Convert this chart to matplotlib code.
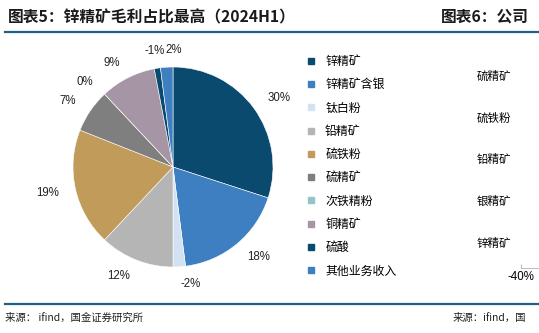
import numpy as np
import matplotlib.pyplot as plt
from matplotlib.lines import Line2D

plt.rcParams['font.family'] = ['Noto Sans CJK SC', 'DejaVu Sans']

# pie data (2024H1 gross profit share, %)
products = ['锌精矿', '锌精矿含银', '钛白粉', '铅精矿', '硫铁粉', '硫精矿',
            '次铁精粉', '铜精矿', '硫酸', '其他业务收入']
shares = [30, 18, -2, 12, 19, 7, 0, 9, -1, 2]
colors = ['#0a4a6e', '#3d7fc1', '#d3e2f2', '#b5b5b5', '#c09b5a', '#7f7f7f',
          '#92c5c9', '#a595a5', '#0a4a6e', '#3d7fc1']

# partial chart on the right (cut off by page)
right_cats = ['锌精矿', '银精矿', '铅精矿', '硫铁粉', '硫精矿']

W, H = 539, 333
fig = plt.figure(figsize=(W / 100, H / 100), dpi=100)

# titles
fig.text(8 / W, 1 - 17 / H, '图表5：锌精矿毛利占比最高（2024H1）', fontsize=11.3,
         fontweight='bold', color='#1a1a1a', va='center', ha='left')
fig.text(441 / W, 1 - 17 / H, '图表6：公司', fontsize=11.3,
         fontweight='bold', color='#1a1a1a', va='center', ha='left')

# rule lines
for y in (32, 304):
    fig.add_artist(Line2D([5 / W, 1], [1 - y / H, 1 - y / H], color='#245f88', lw=1.6))

# sources
fig.text(5 / W, 1 - 318 / H, '来源： ifind，国金证券研究所', fontsize=7.5,
         color='#222222', va='center', ha='left')
fig.text(453 / W, 1 - 318 / H, '来源：ifind，国', fontsize=7.5,
         color='#222222', va='center', ha='left')

# pie
ax = fig.add_axes([73 / W, 1 - 267 / H, 200 / W, 200 / H])
vals = np.abs(np.array(shares, dtype=float))
lbls = [f'{v}%' for v in shares]
wedges, texts = ax.pie(vals, colors=colors, startangle=90, counterclock=False,
                       labels=lbls, labeldistance=1.17,
                       wedgeprops=dict(edgecolor='white', linewidth=0.4),
                       textprops=dict(fontsize=8.3, family='Liberation Sans', color='#222222'))
# small slices near the top: keep their labels apart
texts[-2].set_ha('center')
texts[-1].set_ha('left')
ax.set_xlim(-1, 1)
ax.set_ylim(-1, 1)
ax.set_aspect('equal')

handles = [Line2D([], [], marker='s', linestyle='none', markersize=4.3,
                  markerfacecolor=c, markeredgecolor=c) for c in colors]
fig.legend(handles, products, loc='upper left', bbox_to_anchor=(306 / W, 1 - 55 / H),
           frameon=False, fontsize=8.6, borderpad=0, borderaxespad=0,
           handlelength=0.9, handletextpad=0.7, labelspacing=0.86)

# partial bar chart axis at the right edge
ax2 = fig.add_axes([521 / W, 1 - 268 / H, 120 / W, 214 / H])
ax2.set_ylim(-0.623, 4.5)
ax2.set_xlim(-0.4, 0.4)
ax2.set_yticks(range(len(right_cats)))
ax2.set_yticklabels(right_cats, fontsize=8.3)
ax2.tick_params(axis='y', length=0, pad=7)
ax2.set_xticks([-0.4])
ax2.set_xticklabels(['-40%'], fontsize=8.3, family='Liberation Sans')
ax2.tick_params(axis='x', direction='in', length=3, color='#bfbfbf', pad=2)
for s in ('top', 'right', 'left'):
    ax2.spines[s].set_visible(False)
ax2.spines['bottom'].set_color('#bfbfbf')
ax2.spines['bottom'].set_linewidth(0.8)
ax2.patch.set_visible(False)

fig.savefig('out.png', dpi=100)
